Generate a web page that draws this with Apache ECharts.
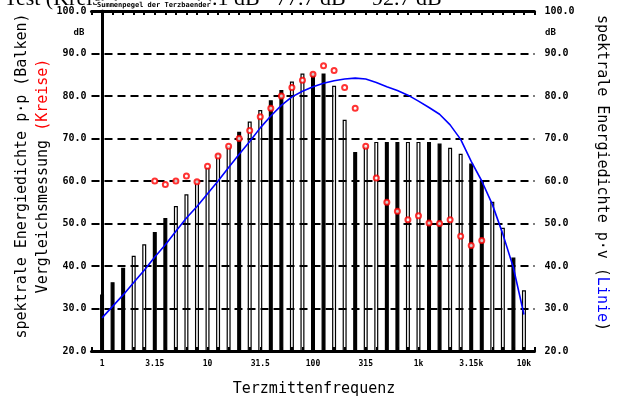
<!DOCTYPE html>
<html>
<head>
<meta charset="utf-8">
<script src="https://cdn.jsdelivr.net/npm/echarts@6/dist/echarts.min.js"></script>
<style>
html,body{margin:0;padding:0;background:#fff;}
#chart{width:623px;height:403px;}
</style>
</head>
<body>
<div id="chart"></div>
<script>
// Third-octave band centre frequencies (Hz)
const bands = ["1","1.25","1.6","2","2.5","3.15","4","5","6.3","8","10","12.5","16","20","25","31.5","40","50","63","80","100","125","160","200","250","315","400","500","630","800","1k","1.25k","1.6k","2k","2.5k","3.15k","4k","5k","6.3k","8k","10k"];
// spektrale Energiedichte p·p (Balken), dB
const barValues = [33.3,36.2,39.6,42.4,45.1,48.0,51.3,54.1,56.9,59.8,63.1,66.3,68.2,71.6,74.0,76.7,79.0,81.4,83.4,85.3,85.4,85.3,82.4,74.4,66.8,68.1,69.2,69.2,69.2,69.2,69.2,69.2,68.8,67.8,66.4,64.1,60.2,55.1,49.0,42.0,34.3];
// bar drawn solid (1) or as outline (0)
const barSolid = [0,1,1,0,0,1,1,0,0,0,0,0,0,1,0,0,1,1,0,0,1,1,0,0,1,0,0,1,1,0,0,1,1,0,0,1,1,0,0,1,0];
// Vergleichsmessung (Kreise), dB
const circleValues = [null,null,null,null,null,60.0,59.2,60.0,61.2,59.8,63.5,65.9,68.2,70.0,71.9,75.1,77.1,80.0,82.0,83.7,85.1,87.1,86.0,82.0,77.1,68.2,60.7,55.0,52.9,50.9,51.8,50.1,50.0,50.9,47.0,44.8,46.0,null,null,null,null];
// spektrale Energiedichte p·v (Linie), dB
const lineValues = [27.8,30.5,33.2,36.1,39.0,42.1,45.0,48.2,51.3,54.0,57.0,60.0,63.2,66.3,69.3,72.5,75.3,77.8,79.8,81.1,82.2,83.0,83.6,84.0,84.2,84.0,83.2,82.2,81.3,80.2,78.8,77.3,75.7,73.2,69.8,64.6,60.0,54.5,47.5,39.6,28.6];
// y tick range
const yMin = 20, yMax = 100, yStep = 10;
const titleParts = ["Test (Kreise)", "93.1 dB", "77.7 dB", "92.7 dB"];

const chart = echarts.init(document.getElementById('chart'), null, {renderer: 'canvas'});
const mono = 'DejaVu Sans Mono';

const barData = barValues.map((v, i) => ({
  value: [i, v],
  itemStyle: barSolid[i]
    ? {color: '#000', borderColor: '#000', borderWidth: 1.2}
    : {color: 'rgba(255,255,255,0)', borderColor: '#000', borderWidth: 1.2}
}));
const circleData = circleValues.map((v, i) => [i, v]);
const lineData = lineValues.map((v, i) => [i, v]);

const yAxisBase = {
  type: 'value', min: yMin, max: yMax, interval: yStep,
  axisLine: {show: true, lineStyle: {color: '#000', width: 3}},
  axisTick: {show: false},
  axisLabel: {color: '#000', fontFamily: mono, fontWeight: 'bold', fontSize: 10, formatter: v => v.toFixed(1)}
};

const xAxisBase = {
  type: 'value', min: -1, max: 41, interval: 1,
  axisLine: {show: true, onZero: false, lineStyle: {color: '#000', width: 3}},
  splitLine: {show: false}
};

chart.setOption({
  animation: false,
  backgroundColor: '#fff',
  grid: {left: 91.5, top: 11, width: 443, height: 340, containLabel: false},
  xAxis: [
    Object.assign({}, xAxisBase, {
      position: 'bottom', z: 4,
      axisTick: {show: true, inside: true, length: 4, lineStyle: {color: '#000', width: 2}},
      axisLabel: {color: '#000', fontFamily: mono, fontWeight: 'bold', fontSize: 8, margin: 9,
        formatter: v => (v >= 0 && v % 5 === 0 && bands[v] !== undefined) ? bands[v] : ''}
    }),
    Object.assign({}, xAxisBase, {
      position: 'top', z: 4,
      axisTick: {show: true, inside: true, length: 4, lineStyle: {color: '#000', width: 2}},
      axisLabel: {show: false}
    })
  ],
  yAxis: [
    Object.assign({}, yAxisBase, {
      position: 'left',
      axisLabel: Object.assign({}, yAxisBase.axisLabel, {margin: 5}),
      splitLine: {show: true, lineStyle: {color: '#000', width: 2, type: [8, 5]}}
    }),
    Object.assign({}, yAxisBase, {
      position: 'right',
      axisLabel: Object.assign({}, yAxisBase.axisLabel, {margin: 10}),
      splitLine: {show: false}
    })
  ],
  series: [
    {type: 'bar', xAxisIndex: 0, yAxisIndex: 0, barWidth: 4, data: barData, clip: true, z: 2},
    {type: 'line', xAxisIndex: 0, yAxisIndex: 1, data: lineData, symbol: 'none', z: 5,
      lineStyle: {color: '#0000ff', width: 1.6}},
    {type: 'scatter', xAxisIndex: 0, yAxisIndex: 0, data: circleData, symbol: 'emptyCircle', symbolSize: 5, z: 6,
      itemStyle: {color: '#ff0000', borderColor: '#ff0000', borderWidth: 2}}
  ],
  graphic: [
    {type: 'text', x: 4, y: -0.5, z: 10, style: {text: titleParts[0], font: '22px "Liberation Serif"', fill: '#000', verticalAlign: 'middle'}},
    {type: 'text', x: 190, y: -0.5, z: 10, style: {text: titleParts[1], font: '22px "Liberation Serif"', fill: '#000', verticalAlign: 'middle'}},
    {type: 'text', x: 276, y: -0.5, z: 10, style: {text: titleParts[2], font: '22px "Liberation Serif"', fill: '#000', verticalAlign: 'middle'}},
    {type: 'text', x: 372, y: -0.5, z: 10, style: {text: titleParts[3], font: '22px "Liberation Serif"', fill: '#000', verticalAlign: 'middle'}},
    {type: 'text', x: 97, y: 5, z: 11, style: {text: 'Summenpegel der Terzbaender', font: 'bold 7px "DejaVu Sans Mono"', fill: '#000', verticalAlign: 'middle', backgroundColor: '#fff', padding: [1, 0, 1, 0]}},
    {type: 'text', x: 79, y: 33, z: 10, style: {text: 'dB', font: 'bold 9px "DejaVu Sans Mono"', fill: '#000', align: 'center', verticalAlign: 'middle'}},
    {type: 'text', x: 545, y: 33, z: 10, style: {text: 'dB', font: 'bold 9px "DejaVu Sans Mono"', fill: '#000', align: 'left', verticalAlign: 'middle'}},
    {type: 'text', x: 32.5, y: 176, rotation: Math.PI / 2, z: 10,
      style: {
        text: '{a|spektrale Energiedichte p·p (Balken)}\n{a|Vergleichsmessung }{r|(Kreise)}',
        align: 'center', verticalAlign: 'middle',
        rich: {
          a: {fontFamily: mono, fontSize: 15, fill: '#000', lineHeight: 21},
          r: {fontFamily: mono, fontSize: 15, fill: '#ff0000', lineHeight: 21}
        }
      }},
    {type: 'text', x: 602, y: 173, rotation: -Math.PI / 2, z: 10,
      style: {
        text: '{a|spektrale Energiedichte p·v (}{b|Linie}{a|)}',
        align: 'center', verticalAlign: 'middle',
        rich: {
          a: {fontFamily: mono, fontSize: 15, fill: '#000'},
          b: {fontFamily: mono, fontSize: 15, fill: '#0000ff'}
        }
      }},
    {type: 'text', x: 314, y: 389, z: 10,
      style: {text: 'Terzmittenfrequenz', font: '15px "DejaVu Sans Mono"', fill: '#000', align: 'center', verticalAlign: 'middle'}}
  ]
});
</script>
</body>
</html>
